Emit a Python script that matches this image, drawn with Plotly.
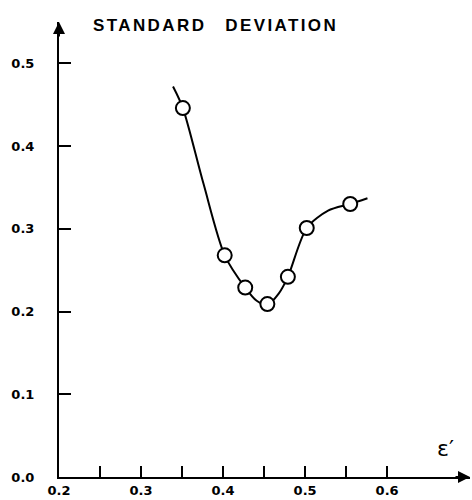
import plotly.graph_objects as go

# measured points
eps = [0.351, 0.402, 0.427, 0.454, 0.479, 0.502, 0.555]
sd = [0.446, 0.268, 0.229, 0.209, 0.242, 0.301, 0.330]

# hand-drawn smooth curve through the points
curve_x = [0.339, 0.351, 0.376, 0.402, 0.427, 0.441, 0.454, 0.468, 0.479, 0.502, 0.528, 0.555, 0.576]
curve_y = [0.472, 0.446, 0.355, 0.268, 0.229, 0.213, 0.208, 0.222, 0.242, 0.301, 0.322, 0.330, 0.337]

xtick_vals = [0.2, 0.25, 0.3, 0.35, 0.4, 0.45, 0.5, 0.55, 0.6]
xtick_text = ["0.2", "", "0.3", "", "0.4", "", "0.5", "", "0.6"]
ytick_vals = [0.0, 0.1, 0.2, 0.3, 0.4, 0.5]
ytick_text = ["0.0", "0.1", "0.2", "0.3", "0.4", "0.5"]

title_words = ["STANDARD", "DEVIATION"]
xlabel = "ε′"

tfont = dict(family="DejaVu Sans", size=13, color="black", weight="bold")

fig = go.Figure()
fig.add_trace(go.Scatter(x=curve_x, y=curve_y, mode="lines",
                         line=dict(color="black", width=2, shape="spline", smoothing=0.8),
                         hoverinfo="skip", showlegend=False))
fig.add_trace(go.Scatter(x=eps, y=sd, mode="markers",
                         marker=dict(symbol="circle", size=14, color="white",
                                     line=dict(color="black", width=2)),
                         showlegend=False))

title_html = ('<span style="letter-spacing:2.4px">' + title_words[0] + '</span>'
              '&nbsp;&nbsp;&nbsp;&nbsp;'
              '<span style="letter-spacing:2.4px">' + title_words[1] + '</span>')

fig.update_layout(
    width=472, height=500,
    margin=dict(l=59, r=2, t=22, b=23),
    plot_bgcolor="white", paper_bgcolor="white",
    xaxis=dict(range=[0.2, 0.701], tickvals=xtick_vals, ticktext=xtick_text,
               ticks="inside", ticklen=11, tickwidth=2, tickcolor="black",
               showline=True, linecolor="black", linewidth=2, automargin=False,
               showgrid=False, zeroline=False, tickfont=tfont),
    yaxis=dict(range=[0, 0.55], tickvals=ytick_vals, ticktext=ytick_text,
               ticks="inside", ticklen=12, tickwidth=2, tickcolor="black",
               showline=True, linecolor="black", linewidth=2, automargin=False,
               showgrid=False, zeroline=False, ticklabelstandoff=20,
               tickfont=tfont),
    annotations=[
        dict(text=title_html, xref="paper", yref="paper",
             x=0.078, y=0.993, xanchor="left", yanchor="middle", showarrow=False,
             font=dict(family="Liberation Sans", size=17, color="black", weight="bold")),
        dict(text=xlabel, xref="paper", yref="paper", x=0.94, y=0.03,
             xanchor="center", yanchor="bottom", showarrow=False,
             font=dict(family="DejaVu Sans", size=22, color="black")),
        dict(x=0.701, y=0, xref="x", yref="y", ax=-16, ay=0, showarrow=True,
             arrowhead=2, arrowsize=1.2, arrowwidth=2, arrowcolor="black", text=""),
        dict(x=0.2, y=0.55, xref="x", yref="y", ax=0, ay=16, showarrow=True,
             arrowhead=2, arrowsize=1.2, arrowwidth=2, arrowcolor="black", text=""),
    ],
)

fig.write_html("out.html", config={"displayModeBar": False},
               post_script="document.body.style.margin='0';")
